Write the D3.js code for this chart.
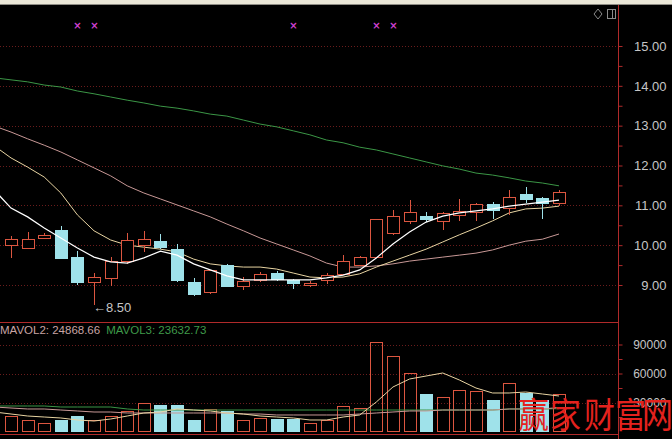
<!DOCTYPE html>
<html><head><meta charset="utf-8">
<script src="https://cdn.jsdelivr.net/npm/d3@7"></script>
<style>html,body{margin:0;padding:0;background:#000;overflow:hidden}svg{display:block}</style>
</head><body>
<svg id="c" width="672" height="439"></svg>
<script>
// ---------- data ----------
const openP  = [10.00,9.93,10.18,10.38,9.70,9.07,9.18,9.60,10.00,10.10,9.90,9.07,8.82,9.50,8.97,9.12,9.30,9.12,9.00,9.12,9.28,9.50,9.70,10.30,10.61,10.73,10.61,10.76,10.83,11.03,10.93,11.28,11.18,11.06];
const highP  = [10.22,10.33,10.30,10.48,9.85,9.30,9.70,10.31,10.36,10.28,10.03,9.18,9.38,9.53,9.20,9.33,9.35,9.15,9.10,9.30,9.75,9.73,10.66,10.88,11.13,10.83,10.83,11.16,11.06,11.08,11.38,11.46,11.21,11.38];
const lowP   = [9.68,9.92,10.15,9.68,9.00,8.50,8.97,9.53,9.83,9.90,9.07,8.72,8.77,8.97,8.87,9.07,9.10,8.90,8.95,9.02,9.25,9.48,9.70,10.25,10.53,10.58,10.38,10.61,10.61,10.66,10.76,11.06,10.66,10.98];
const closeP = [10.15,10.15,10.25,9.68,9.07,9.20,9.60,10.13,10.15,9.95,9.12,8.77,9.38,8.97,9.10,9.28,9.15,9.05,9.05,9.25,9.60,9.70,10.66,10.73,10.83,10.66,10.81,10.86,11.03,10.88,11.21,11.16,11.06,11.33];
const volume = [16500,11400,8300,11400,16500,11700,15800,21700,29000,26900,27900,11700,22800,21000,12400,14100,13400,13400,8300,12400,25900,24800,93100,78600,61000,38300,36200,43400,41400,32100,49700,40300,32100,38300];

// moving averages, first value belongs to the day before the first visible candle
const maStart = -1;
const ma5  = [11.38,10.93,10.71,10.43,10.18,9.93,9.70,9.58,9.55,9.68,9.85,9.75,9.53,9.38,9.23,9.13,9.13,9.13,9.13,9.13,9.18,9.25,9.38,9.68,10.03,10.33,10.58,10.73,10.81,10.86,10.91,10.98,11.03,11.08,11.13];
const ma10 = [12.49,12.19,11.96,11.71,11.31,10.76,10.36,10.13,10.00,9.95,9.90,9.83,9.65,9.53,9.48,9.45,9.45,9.40,9.30,9.20,9.18,9.20,9.28,9.45,9.60,9.75,9.90,10.08,10.26,10.43,10.61,10.81,10.91,10.93,10.98];
const ma20 = [12.99,12.84,12.67,12.51,12.34,12.14,11.94,11.74,11.49,11.31,11.16,11.01,10.86,10.71,10.53,10.36,10.18,10.03,9.88,9.73,9.55,9.45,9.45,9.48,9.53,9.60,9.65,9.70,9.75,9.80,9.88,10.00,10.10,10.15,10.28];
const ma60 = [14.20,14.15,14.10,14.02,13.97,13.87,13.80,13.72,13.64,13.57,13.49,13.44,13.37,13.29,13.24,13.14,13.04,12.97,12.87,12.77,12.64,12.57,12.46,12.39,12.29,12.19,12.09,11.99,11.91,11.81,11.76,11.69,11.61,11.56,11.49];
const mavol1 = [20170,18100,16030,15000,13970,11900,10860,12930,16030,19140,20170,23280,22240,21210,19140,18100,16030,15000,13970,11900,11900,15000,17070,30520,46040,54310,57410,60520,53280,45000,39830,39830,40860,38790,36720];
const mavol2 = [25345,24310,23280,23280,22240,21210,20170,20170,19140,19140,19140,19140,19140,19140,19140,18100,18100,17070,17070,17070,17070,17070,18100,19140,20170,21210,21210,22240,22240,22240,22240,23280,23280,23280,24868.66];
const mavol3 = [26380,26380,26380,26380,25345,25345,25345,25345,23280,22240,22240,22240,22240,22240,22240,22240,22240,22240,22240,22240,22240,22240,22240,22240,22240,22240,22240,22240,22240,22240,22240,23280,23280,23280,23632.73];

const priceTicks = [9,10,11,12,13,14,15];
const priceMinor = [9.5,10.5,11.5,12.5,13.5,14.5];
const volTicks = [30000,60000,90000];
const volMinor = [15000,45000,75000];
const markerIdx = [4,5,17,22,23];
const lowLabel = "←8.50";
const legendTexts = ["MAVOL2: 24868.66","MAVOL3: 23632.73"];
const watermark = "赢家财富网";

// ---------- drawing ----------
const svg = d3.select("#c");
const W = 672, H = 439, axisX = 618.5;
const C = {up:"#dc5640", down:"#9fe2ea", grid:"#6a1c1c", axis:"#b02a2a", text:"#c6c6c6",
           m5:"#ffffff", m10:"#e8d4a2", m20:"#c89896", m60:"#3b9646"};

svg.append("rect").attr("width",W).attr("height",H).attr("fill","#000");
svg.append("rect").attr("width",W).attr("height",4).attr("fill","#ebe8d8");
svg.append("line").attr("x1",0).attr("x2",W).attr("y1",4.5).attr("y2",4.5).attr("stroke","#8e8c84");

const x = d3.scaleLinear().domain([0,33]).range([11,559]);
const y = d3.scaleLinear().domain([9,15]).range([285,46]);
const yv = d3.scaleLinear().domain([0,90000]).range([431.5,344.5]);
const cx = i => Math.round(x(i));

svg.append("defs").call(d=>{
  d.append("clipPath").attr("id","cp").append("rect").attr("x",0).attr("y",6).attr("width",618).attr("height",315);
  d.append("clipPath").attr("id","cv").append("rect").attr("x",0).attr("y",323).attr("width",618).attr("height",111);
});

// gridlines
svg.append("g").selectAll("line").data(priceTicks).join("line")
  .attr("x1",0).attr("x2",618).attr("y1",d=>Math.round(y(d))+0.5).attr("y2",d=>Math.round(y(d))+0.5)
  .attr("stroke",C.grid).attr("stroke-dasharray","1,2");
svg.append("g").selectAll("line").data(volTicks).join("line")
  .attr("x1",0).attr("x2",618).attr("y1",d=>Math.round(yv(d))+0.5).attr("y2",d=>Math.round(yv(d))+0.5)
  .attr("stroke",C.grid).attr("stroke-dasharray","1,2");

// frame lines
svg.append("line").attr("x1",axisX).attr("x2",axisX).attr("y1",5).attr("y2",H).attr("stroke",C.axis);
svg.append("line").attr("x1",0).attr("x2",axisX).attr("y1",322.5).attr("y2",322.5).attr("stroke",C.axis);
svg.append("line").attr("x1",0).attr("x2",axisX).attr("y1",434.5).attr("y2",434.5).attr("stroke",C.axis);

// axes
const pa = svg.append("g").attr("transform",`translate(${axisX},0)`)
  .call(d3.axisRight(y).tickValues(priceTicks).tickFormat(d3.format(".2f")).tickSize(4));
const pm = svg.append("g").attr("transform",`translate(${axisX},0)`)
  .call(d3.axisRight(y).tickValues(priceMinor).tickFormat("").tickSize(4));
const va = svg.append("g").attr("transform",`translate(${axisX},0)`)
  .call(d3.axisRight(yv).tickValues(volTicks).tickFormat(d3.format("d")).tickSize(4));
const vm = svg.append("g").attr("transform",`translate(${axisX},0)`)
  .call(d3.axisRight(yv).tickValues(volMinor).tickFormat("").tickSize(4));
[pa,pm,va,vm].forEach(g=>{
  g.select(".domain").remove();
  g.selectAll(".tick line").attr("stroke",C.axis);
  g.selectAll(".tick text").attr("fill",C.text).attr("x",48).attr("text-anchor","end")
    .attr("font-family","Liberation Sans, Arial, sans-serif");
});
pa.selectAll(".tick text").attr("font-size",13);
va.selectAll(".tick text").attr("font-size",12);

// MA lines
const maIdx = d3.range(ma5.length).map(k=>k+maStart);
const pline = arr => d3.line().x((d,k)=>x(maIdx[k])).y(d=>y(d))(arr);
const vline = arr => d3.line().x((d,k)=>x(maIdx[k])).y(d=>yv(d))(arr);
const gp = svg.append("g").attr("clip-path","url(#cp)");
[[ma60,C.m60],[ma20,C.m20],[ma10,C.m10]].forEach(([a,c])=>
  gp.append("path").attr("d",pline(a)).attr("fill","none").attr("stroke",c).attr("stroke-width",1));

// candles
const idx = d3.range(openP.length);
const gc = gp.append("g");
idx.forEach(i=>{
  const o=openP[i], c=closeP[i], h=highP[i], l=lowP[i], xc=cx(i);
  const up = c>=o;
  const top = Math.round(y(Math.max(o,c))), bot = Math.round(y(Math.min(o,c)));
  if(up){
    gc.append("line").attr("x1",xc+0.5).attr("x2",xc+0.5).attr("y1",Math.round(y(h))).attr("y2",top).attr("stroke",C.up);
    gc.append("line").attr("x1",xc+0.5).attr("x2",xc+0.5).attr("y1",bot).attr("y2",Math.round(y(l))).attr("stroke",C.up);
    gc.append("rect").attr("x",xc-5.5).attr("y",top+0.5).attr("width",12).attr("height",Math.max(1,bot-top))
      .attr("fill","#000").attr("stroke",C.up);
  } else {
    gc.append("line").attr("x1",xc+0.5).attr("x2",xc+0.5).attr("y1",Math.round(y(h))).attr("y2",Math.round(y(l))).attr("stroke",C.down);
    gc.append("rect").attr("x",xc-6).attr("y",top).attr("width",13).attr("height",Math.max(2,bot-top+1)).attr("fill",C.down);
  }
});
gp.append("path").attr("d",pline(ma5)).attr("fill","none").attr("stroke",C.m5).attr("stroke-width",1.2);

// low label
svg.append("text").attr("x",cx(lowP.indexOf(d3.min(lowP)))-1).attr("y",y(d3.min(lowP))+7)
  .attr("fill",C.text).attr("font-size",13).attr("font-family","Liberation Sans, DejaVu Sans, sans-serif").text(lowLabel);

// markers
svg.append("g").selectAll("text").data(markerIdx).join("text")
  .attr("x",d=>cx(d)+0.5).attr("y",29).attr("text-anchor","middle").attr("fill","#d040d0")
  .attr("font-size",10).attr("font-weight","bold").attr("font-family","DejaVu Sans, sans-serif").text("×");

// icons
svg.append("path").attr("d","M598,9 L602,14 L598,19 L594,14 Z").attr("fill","none").attr("stroke","#8a8a8a");
svg.append("rect").attr("x",607.5).attr("y",9.5).attr("width",8).attr("height",9).attr("fill","none").attr("stroke","#8a8a8a");
svg.append("line").attr("x1",612.5).attr("x2",612.5).attr("y1",10).attr("y2",18).attr("stroke","#8a8a8a");

// volume bars
const gv = svg.append("g").attr("clip-path","url(#cv)");
idx.forEach(i=>{
  const xc=cx(i), up = closeP[i]>=openP[i];
  const t = Math.round(yv(volume[i])), b = Math.round(yv(0));
  if(up) gv.append("rect").attr("x",xc-5.5).attr("y",t+0.5).attr("width",12).attr("height",b-t-1).attr("fill","none").attr("stroke",C.up);
  else gv.append("rect").attr("x",xc-6).attr("y",t).attr("width",13).attr("height",b-t).attr("fill",C.down);
});
[[mavol3,C.m60],[mavol2,C.m20],[mavol1,C.m10]].forEach(([a,c])=>
  gv.append("path").attr("d",vline(a)).attr("fill","none").attr("stroke",c).attr("stroke-width",1));

// legend
const lg = svg.append("text").attr("x",0).attr("y",334).attr("font-size",11.5).attr("font-family","Liberation Sans, Arial, sans-serif");
lg.append("tspan").attr("fill","#c8a4a4").text(legendTexts[0]);
lg.append("tspan").attr("fill","#3f9a4a").attr("dx",6).text(legendTexts[1]);

// watermark (one glyph every ~30px, as in the reference)
svg.append("text").attr("transform","translate(518,428) scale(1,1.15)")
  .attr("x",[0,32,66,97,124].join(" "))
  .attr("font-size",31).attr("font-family","Noto Sans CJK SC, sans-serif")
  .attr("fill","#e4221e").text(watermark);
</script>
</body></html>
